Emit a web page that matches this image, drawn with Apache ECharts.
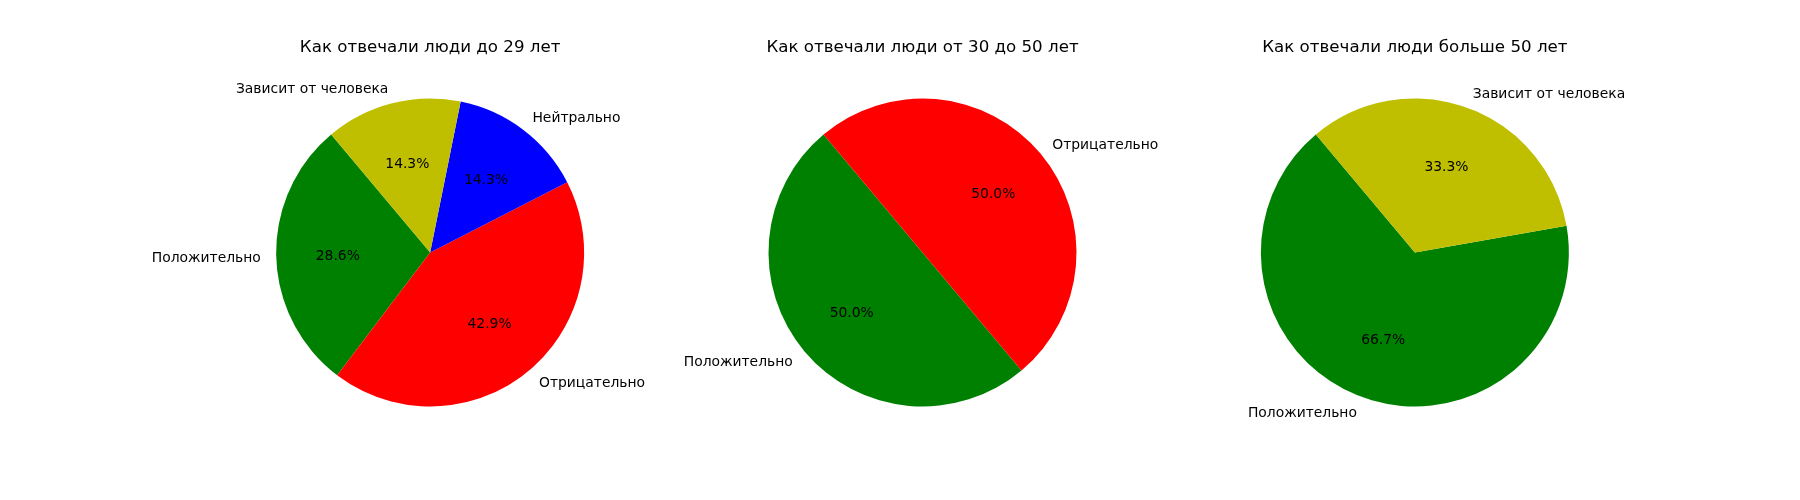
<!DOCTYPE html>
<html>
<head>
<meta charset="utf-8">
<script src="https://cdn.jsdelivr.net/npm/echarts@6/dist/echarts.min.js"></script>
<style>
html,body{margin:0;padding:0;background:#fff;}
#chart{width:1800px;height:500px;}
</style>
</head>
<body>
<div id="chart"></div>
<script>
// ---- data ----
const titles = [
  'Как отвечали люди до 29 лет',
  'Как отвечали люди от 30 до 50 лет',
  'Как отвечали люди больше 50 лет'
];
const labels1 = ['Положительно', 'Отрицательно', 'Нейтрально', 'Зависит от человека'];
const values1 = [2, 3, 1, 1];
const labels2 = ['Положительно', 'Отрицательно'];
const values2 = [1, 1];
const labels3 = ['Положительно', 'Зависит от человека'];
const values3 = [2, 1];
const colorByLabel = {
  'Положительно': '#008000',
  'Отрицательно': '#ff0000',
  'Нейтрально': '#0000ff',
  'Зависит от человека': '#bfbf00'
};
const pies = [
  { labels: labels1, values: values1 },
  { labels: labels2, values: values2 },
  { labels: labels3, values: values3 }
];

// ---- layout (matplotlib-like subplot geometry) ----
const W = 1800, H = 500;
const left = 0.125 * W, right = 0.9 * W, wspace = 0.2;
const axW = (right - left) / (3 + 2 * wspace);
const axTop = (1 - 0.88) * H, axBottom = (1 - 0.11) * H;
const axH = axBottom - axTop;
const R = Math.min(axW, axH) / 2.5;
const CY = (axTop + axBottom) / 2;
const LABEL_DY = 1.3; // small vertical nudge of text vs. glyph centring
const centersX = [0, 1, 2].map(i => left + i * axW * (1 + wspace) + axW / 2);
const FONT = 'DejaVu Sans';
const LABEL_SIZE = 13.89;
const TITLE_SIZE = 16.67;

const chart = echarts.init(document.getElementById('chart'), null, { renderer: 'canvas' });

const common = {
  type: 'pie',
  startAngle: 130,
  clockwise: false,
  avoidLabelOverlap: false,
  silent: true,
  animation: false,
  emphasis: { disabled: true }
};

const series = [];
pies.forEach((p, i) => {
  const total = p.values.reduce((a, b) => a + b, 0);
  // coloured wedges
  series.push(Object.assign({}, common, {
    center: [centersX[i], CY],
    radius: R,
    itemStyle: { borderWidth: 0 },
    label: { show: false },
    labelLine: { show: false },
    data: p.labels.map((name, k) => ({
      name: name,
      value: p.values[k],
      itemStyle: { color: colorByLabel[name] }
    }))
  }));
  // category labels at 1.1 R
  series.push(Object.assign({}, common, {
    center: [centersX[i], CY + LABEL_DY],
    radius: R,
    z: 4,
    itemStyle: { color: 'rgba(0,0,0,0)', borderWidth: 0 },
    label: {
      show: true,
      position: 'outside',
      formatter: '{b}',
      color: '#000',
      fontFamily: FONT,
      fontSize: LABEL_SIZE,
      distanceToLabelLine: 0,
      verticalAlign: 'middle'
    },
    labelLine: { show: false, length: 0.1 * R, length2: 0 },
    data: p.labels.map((name, k) => ({ name: name, value: p.values[k] }))
  }));
  // percentage labels at 0.6 R
  series.push(Object.assign({}, common, {
    center: [centersX[i], CY + LABEL_DY],
    radius: [0.4 * R - 3, 0.8 * R - 3],
    z: 5,
    itemStyle: { color: 'rgba(0,0,0,0)', borderWidth: 0 },
    label: {
      show: true,
      position: 'inside',
      formatter: (q) => (q.value / total * 100).toFixed(1) + '%',
      color: '#000',
      fontFamily: FONT,
      fontSize: LABEL_SIZE
    },
    labelLine: { show: false },
    data: p.labels.map((name, k) => ({ name: name, value: p.values[k] }))
  }));
});

chart.setOption({
  backgroundColor: '#fff',
  animation: false,
  title: titles.map((t, i) => ({
    text: t,
    left: centersX[i],
    top: 38.7,
    padding: 0,
    textAlign: 'center',
    textStyle: { fontFamily: FONT, fontSize: TITLE_SIZE, fontWeight: 'normal', color: '#000' }
  })),
  series: series
});
</script>
</body>
</html>
